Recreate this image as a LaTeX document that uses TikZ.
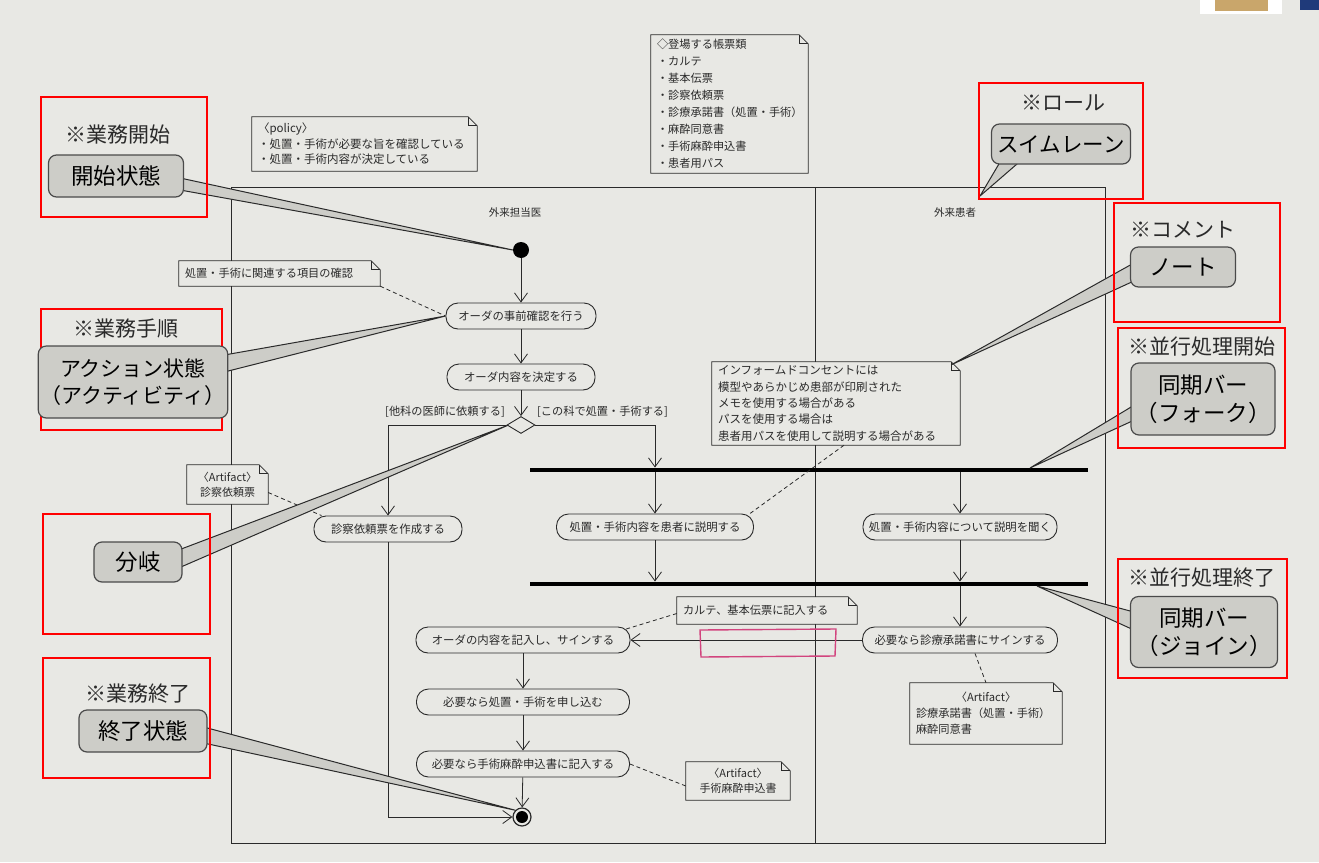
\documentclass[tikz,border=0pt]{standalone}
\usepackage{fontspec}
\setmainfont{Noto Sans CJK JP}
\usetikzlibrary{arrows.meta,shapes.geometric,calc}
\definecolor{bg}{HTML}{E8E8E4}
\definecolor{ink}{HTML}{2A2A2A}
\definecolor{cfill}{HTML}{CDCDC8}
\definecolor{pinkred}{HTML}{D2447E}
\definecolor{tan}{HTML}{C9A66B}
\definecolor{navy}{HTML}{1F3A7A}
\pgfdeclarelayer{back}
\pgfdeclarelayer{wedgelayer}
\pgfdeclarelayer{toplayer}
\pgfsetlayers{back,main,wedgelayer,toplayer}
\tikzset{
 act/.style={draw=ink, line width=0.9pt, rounded corners=12pt, minimum height=26pt, inner sep=2pt, font=\fontsize{11.4}{13}\selectfont, text=ink},
 arr/.style={draw=ink, line width=0.8pt, -{Straight Barb[length=9pt,width=13pt,line width=0.8pt]}},
 flow/.style={draw=ink, line width=0.8pt},
 notebox/.style={fill=bg, inner xsep=6pt, inner ysep=2pt, font=\fontsize{11.2}{17}\selectfont, text=ink, align=left},
 noteln/.style={draw=ink, line width=0.8pt},
 dashln/.style={draw=ink, line width=0.8pt, dash pattern=on 4pt off 3pt},
 cbox/.style={draw=ink!85, line width=1.2pt, fill=cfill, rounded corners=8pt, font=\fontsize{22.5}{28}\selectfont, text=black, align=center, inner sep=2pt},
 chead/.style={font=\fontsize{21}{25}\selectfont, text=ink},
 redbox/.style={draw=red, line width=2.2pt},
 wedge/.style={fill=cfill, draw=ink, line width=1pt},
 bar/.style={fill=black, inner sep=0pt, minimum height=4.5pt},
 frame/.style={draw=ink, line width=1pt},
 lane/.style={font=\fontsize{10.5}{12}\selectfont, text=ink},
 guard/.style={font=\fontsize{11.2}{13}\selectfont, text=ink, inner sep=1pt},
}
\newcommand{\mynote}[1]{%
 \draw[noteln] (#1.north west) -- ([xshift=-9pt]#1.north east) -- ([yshift=-9pt]#1.north east) -- (#1.south east) -- (#1.south west) -- cycle;
 \draw[noteln] ([xshift=-9pt]#1.north east) -- ([xshift=-9pt,yshift=-9pt]#1.north east) -- ([yshift=-9pt]#1.north east);}
\begin{document}
\begin{tikzpicture}[x=1pt,y=-1pt]
\useasboundingbox (0,0) rectangle (1319,862);
\begin{pgfonlayer}{back}
\fill[bg] (0,0) rectangle (1319,862);
\fill[white] (1200,0) rectangle (1282,14);
\fill[tan] (1215,0) rectangle (1268,11);
\fill[navy] (1300,0) rectangle (1319,10);
\end{pgfonlayer}

% swimlanes
\draw[frame] (231,843) -- (231,187) -- (1105,187) -- (1105,843) -- cycle;
\draw[frame] (815,187) -- (815,843);
\node[lane] (lane1) at (515,213) {外来担当医};
\node[lane] (lane2) at (955,213) {外来患者};

% nodes
\node[circle, fill=black, minimum size=16pt, inner sep=0pt] (start) at (521,250) {};
\node[act, minimum width=150pt] (a1) at (521,316) {オーダの事前確認を行う};
\node[act, minimum width=148pt] (a2) at (521,377) {オーダ内容を決定する};
\node[diamond, draw=ink, line width=0.9pt, fill=bg, minimum width=28pt, minimum height=17pt, inner sep=0pt] (dec) at (521,425) {};
\node[guard, anchor=east] (g1) at (506,412) {[他科の医師に依頼する]};
\node[guard, anchor=west] (g2) at (536,412) {[この科で処置・手術する]};
\node[act, minimum width=148pt] (a3) at (388,529) {診察依頼票を作成する};
\node[bar, minimum width=558pt] (fork) at (809,470) {};
\node[act, minimum width=197pt] (a4) at (655,527) {処置・手術内容を患者に説明する};
\node[act, minimum width=194pt] (a5) at (960,527) {処置・手術内容について説明を聞く};
\node[bar, minimum width=558pt] (join) at (809,584) {};
\node[act, minimum width=195pt] (a6) at (960,640) {必要なら診療承諾書にサインする};
\node[act, minimum width=214pt] (a7) at (523,640) {オーダの内容を記入し、サインする};
\node[act, minimum width=213pt] (a8) at (523,702) {必要なら処置・手術を申し込む};
\node[act, minimum width=213pt] (a9) at (523,764) {必要なら手術麻酔申込書に記入する};
\node[circle, draw=ink, line width=1.2pt, fill=bg, minimum size=18pt, inner sep=0pt] (final) at (522,817) {};
\fill[black] (final.center) circle (6pt);

% flows
\draw[arr] (start) -- (a1);
\draw[arr] (a1) -- (a2);
\draw[arr] (a2) -- (dec);
\draw[arr] (dec.west) -| (a3.north);
\coordinate (f1) at (fork.north -| a4.north);
\draw[arr] (dec.east) -| (f1);
\draw[arr] (fork.south -| a4.north) -- (a4.north);
\draw[arr] (fork.south -| a5.north) -- (a5.north);
\draw[arr] (a4.south) -- (join.north -| a4.south);
\draw[arr] (a5.south) -- (join.north -| a5.south);
\draw[arr] (join.south -| a6.north) -- (a6.north);
\draw[arr] (a6.west) -- (a7.east);
\draw[arr] (a7) -- (a8);
\draw[arr] (a8) -- (a9);
\draw[arr] (a9) -- (final);
\draw[arr] (a3.south) |- (final.west);

% pink mark
\draw[pinkred, line width=1.4pt] (700,630) -- (836,629) -- (835,656) -- (701,657) -- cycle;

% notes
\node[notebox, text width=145pt, minimum height=138pt] (listnote) at (729.5,104) {◇登場する帳票類\\・カルテ\\・基本伝票\\・診察依頼票\\・診療承諾書（処置・手術）\\・麻酔同意書\\・手術麻酔申込書\\・患者用パス};
\mynote{listnote}
\node[notebox, text width=213pt, minimum height=54pt, font=\fontsize{11.5}{15.5}\selectfont] (policy) at (364.5,144) {〈policy〉\\・処置・手術が必要な旨を確認している\\・処置・手術内容が決定している};
\mynote{policy}
\node[notebox, text width=189pt, minimum height=25pt] (n1) at (279.5,273.5) {処置・手術に関連する項目の確認};
\mynote{n1}
\node[notebox, text width=236pt, minimum height=83pt, font=\fontsize{11.5}{16.3}\selectfont] (ic) at (836,403.5) {インフォームドコンセントには\\模型やあらかじめ患部が印刷された\\メモを使用する場合がある\\パスを使用する場合は\\患者用パスを使用して説明する場合がある};
\mynote{ic}
\node[notebox, text width=69pt, minimum height=39pt, align=center, font=\fontsize{11}{15}\selectfont] (art1) at (227.5,484.5) {〈Artifact〉\\診察依頼票};
\mynote{art1}
\node[notebox, text width=168pt, minimum height=27pt] (n2) at (767,610.5) {カルテ、基本伝票に記入する};
\mynote{n2}
\node[notebox, text width=140pt, minimum height=61pt, font=\fontsize{11.2}{16}\selectfont] (art2) at (986,713.5) {\makebox[\linewidth]{〈Artifact〉}\\診療承諾書（処置・手術）\\麻酔同意書};
\mynote{art2}
\node[notebox, text width=92pt, minimum height=38pt, align=center, font=\fontsize{11}{15}\selectfont] (art3) at (738,781) {〈Artifact〉\\手術麻酔申込書};
\mynote{art3}

% note links
\draw[dashln] (n1.south east) -- (a1.west);
\draw[dashln] ([yshift=-8pt]art1.east) -- ([xshift=8pt]a3.north west);
\draw[dashln] ([xshift=8pt]ic.south) -- ([xshift=-4pt]a4.north east);
\draw[dashln] ([yshift=-3pt]n2.west) -- ([xshift=-6pt,yshift=-3pt]a7.north east);
\draw[dashln] (a9.east) -- ([yshift=-5pt]art3.west);
\draw[dashln] ([xshift=15pt]a6.south) -- (art2.north);

% callouts
\coordinate (laneTip) at (980,196);
\coordinate (forkTip) at (1030,468);
\coordinate (joinTip) at (1037,586);
\begin{pgfonlayer}{toplayer}
\draw[redbox] (41,97) rectangle (207,217);
\draw[redbox] (41,309) rectangle (222,430);
\draw[redbox] (43,514) rectangle (210,634);
\draw[redbox] (43,658) rectangle (210,778);
\draw[redbox] (979,83) rectangle (1143,199);
\draw[redbox] (1114,203) rectangle (1280,322);
\draw[redbox] (1118,328) rectangle (1285,448);
\draw[redbox] (1118,559) rectangle (1287,678);
\node[chead] (h1) at (118,135) {※業務開始};
\node[chead] (h2) at (126,329) {※業務手順};
\node[chead] (h4) at (138,694) {※業務終了};
\node[chead] (h5) at (1063,103) {※ロール};
\node[chead] (h6) at (1183,230) {※コメント};
\node[chead] (h7) at (1202,347) {※並行処理開始};
\node[chead] (h8) at (1202,578) {※並行処理終了};
\node[cbox, minimum width=135pt, minimum height=42pt] (cb1) at (116,176) {開始状態};
\node[cbox, minimum width=167pt, minimum height=72pt, font=\fontsize{21}{27}\selectfont] (cb2) at (133,382) {アクション状態\\（アクティビティ）};
\node[cbox, minimum width=88pt, minimum height=40pt] (cb3) at (138,562) {分岐};
\node[cbox, minimum width=128pt, minimum height=42pt] (cb4) at (143,731) {終了状態};
\node[cbox, minimum width=139pt, minimum height=40pt, font=\fontsize{21.5}{26}\selectfont] (cb5) at (1061,144) {スイムレーン};
\node[cbox, minimum width=105pt, minimum height=40pt] (cb6) at (1183,267) {ノート};
\node[cbox, minimum width=144pt, minimum height=72pt] (cb7) at (1203,399) {同期バー\\（フォーク）};
\node[cbox, minimum width=147pt, minimum height=71pt] (cb8) at (1204,632) {同期バー\\（ジョイン）};
\end{pgfonlayer}
\begin{pgfonlayer}{wedgelayer}
\filldraw[wedge] ([xshift=-4pt,yshift=-2pt]cb1.east) -- (start.west) -- ([xshift=-4pt,yshift=-14pt]cb1.east);
\filldraw[wedge] ([xshift=-4pt,yshift=27pt]cb2.east) -- (a1.west) -- ([xshift=-4pt,yshift=10pt]cb2.east);
\filldraw[wedge] ([xshift=-4pt,yshift=12pt]cb3.east) -- ([xshift=2pt]dec.west) -- ([xshift=-4pt,yshift=-6pt]cb3.east);
\filldraw[wedge] ([xshift=-4pt,yshift=4pt]cb4.east) -- (final.north west) -- ([xshift=-4pt,yshift=-12pt]cb4.east);
\filldraw[wedge] ([xshift=10pt,yshift=4pt]cb5.south west) -- (laneTip) -- ([xshift=30pt,yshift=4pt]cb5.south west);
\filldraw[wedge] ([xshift=4pt,yshift=4pt]cb6.west) -- ([xshift=-9pt,yshift=-3pt]ic.north east) -- ([xshift=4pt,yshift=-14pt]cb6.west);
\filldraw[wedge] ([xshift=4pt,yshift=-6pt]cb7.west) -- (forkTip) -- ([xshift=4pt,yshift=-21pt]cb7.west);
\filldraw[wedge] ([xshift=4pt,yshift=20pt]cb8.west) -- (joinTip) -- ([xshift=4pt,yshift=2pt]cb8.west);
\end{pgfonlayer}
\end{tikzpicture}
\end{document}
